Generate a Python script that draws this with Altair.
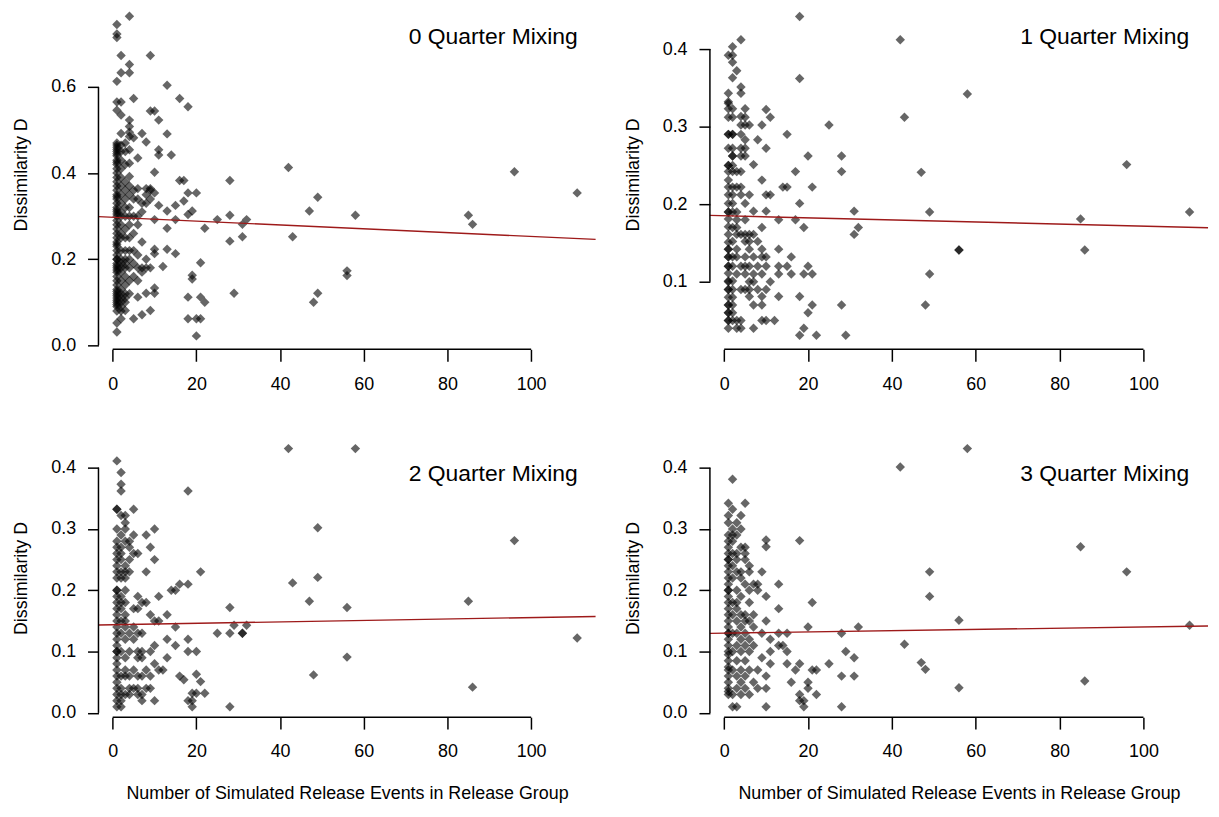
import altair as alt
import pandas as pd

FONT = "Liberation Sans"
X_TITLE = "Number of Simulated Release Events in Release Group"
Y_TITLE = "Dissimilarity D"
TITLES = ["0 Quarter Mixing", "1 Quarter Mixing", "2 Quarter Mixing", "3 Quarter Mixing"]

X_TICKS = [0, 20, 40, 60, 80, 100]
X_DOMAIN = [-3.4, 115.4]
Y_TICKS = [[0.0, 0.2, 0.4, 0.6], [0.1, 0.2, 0.3, 0.4],
           [0.0, 0.1, 0.2, 0.3, 0.4], [0.0, 0.1, 0.2, 0.3, 0.4]]
Y_DOMAINS = [[-0.0092, 0.778], [0.0128, 0.45], [-0.007, 0.447], [-0.007, 0.447]]
# fitted line values at the two ends of the x range
FIT_Y = [[0.299, 0.246], [0.1855, 0.1696], [0.1433, 0.1573], [0.1297, 0.1417]]

# release events in group -> dissimilarity values
Q0 = {
    1: [0.745, 0.723, 0.715, 0.613, 0.565, 0.546, 0.47, 0.465, 0.46, 0.455, 0.45, 0.445, 0.44, 0.43,
        0.425, 0.42, 0.41, 0.40, 0.39, 0.38, 0.37, 0.36, 0.35, 0.345, 0.34, 0.33, 0.32, 0.315, 0.31,
        0.305, 0.30, 0.29, 0.28, 0.27, 0.26, 0.25, 0.24, 0.235, 0.23, 0.22, 0.21, 0.20, 0.20, 0.19,
        0.185, 0.18, 0.175, 0.17, 0.16, 0.15, 0.14, 0.13, 0.125, 0.12, 0.115, 0.11, 0.105, 0.10,
        0.095, 0.09, 0.08, 0.052, 0.031],
    2: [0.673, 0.633, 0.565, 0.535, 0.492, 0.465, 0.45, 0.43, 0.41, 0.39, 0.37, 0.35, 0.33, 0.31,
        0.30, 0.28, 0.26, 0.25, 0.22, 0.20, 0.19, 0.18, 0.17, 0.15, 0.13, 0.12, 0.11, 0.10, 0.09,
        0.08, 0.062],
    3: [0.47, 0.45, 0.42, 0.38, 0.36, 0.34, 0.32, 0.30, 0.27, 0.25, 0.22, 0.20, 0.19, 0.18, 0.16,
        0.14, 0.12, 0.11, 0.10, 0.081],
    4: [0.764, 0.652, 0.633, 0.523, 0.508, 0.495, 0.485, 0.454, 0.423, 0.392, 0.37, 0.35, 0.32,
        0.30, 0.28, 0.25, 0.22, 0.20, 0.18, 0.15, 0.12],
    5: [0.573, 0.482, 0.36, 0.34, 0.30, 0.26, 0.22, 0.19, 0.16, 0.062],
    6: [0.435, 0.364, 0.34, 0.30, 0.28, 0.21, 0.18, 0.15, 0.112],
    7: [0.492, 0.33, 0.31, 0.24, 0.18, 0.17, 0.071],
    8: [0.472, 0.364, 0.35, 0.33, 0.20, 0.18, 0.121],
    9: [0.673, 0.544, 0.364, 0.36, 0.34, 0.18, 0.081],
    10: [0.544, 0.402, 0.354, 0.292, 0.223, 0.213, 0.133, 0.121],
    11: [0.523, 0.454, 0.442, 0.325],
    12: [0.183],
    13: [0.604, 0.491, 0.312, 0.272, 0.223],
    14: [0.442],
    15: [0.325, 0.292, 0.213],
    16: [0.573, 0.383],
    17: [0.383, 0.335],
    18: [0.554, 0.354, 0.304, 0.112, 0.062],
    19: [0.312, 0.163, 0.154],
    20: [0.354, 0.062, 0.022],
    21: [0.192, 0.112, 0.062],
    22: [0.272, 0.10],
    25: [0.292],
    28: [0.383, 0.302, 0.242],
    29: [0.121],
    31: [0.281, 0.252],
    32: [0.292],
    42: [0.413], 43: [0.252], 47: [0.312], 48: [0.10], 49: [0.344, 0.121],
    56: [0.173, 0.162], 58: [0.302], 85: [0.302], 86: [0.281], 96: [0.403], 111: [0.354],
}

Q1 = {
    1: [0.392, 0.343, 0.332, 0.33, 0.323, 0.312, 0.29, 0.29, 0.272, 0.25, 0.25, 0.242, 0.231,
        0.222, 0.212, 0.201, 0.19, 0.19, 0.181, 0.171, 0.161, 0.151, 0.142, 0.142, 0.132, 0.132,
        0.12, 0.12, 0.111, 0.101, 0.10, 0.09, 0.09, 0.08, 0.07, 0.07, 0.06, 0.06, 0.05, 0.05, 0.04],
    2: [0.403, 0.392, 0.383, 0.363, 0.323, 0.312, 0.29, 0.29, 0.272, 0.262, 0.262, 0.25, 0.242,
        0.222, 0.212, 0.201, 0.19, 0.17, 0.152, 0.132, 0.12, 0.101, 0.09, 0.08, 0.07, 0.06, 0.05],
    3: [0.372, 0.242, 0.222, 0.19, 0.18, 0.17, 0.161, 0.142, 0.132, 0.11, 0.05, 0.04],
    4: [0.412, 0.351, 0.343, 0.313, 0.302, 0.29, 0.272, 0.262, 0.242, 0.222, 0.212, 0.161, 0.12,
        0.09, 0.05, 0.04],
    5: [0.323, 0.312, 0.302, 0.283, 0.272, 0.262, 0.201, 0.18, 0.161, 0.152, 0.132, 0.12, 0.11, 0.09],
    6: [0.302, 0.212, 0.161, 0.152, 0.142, 0.12, 0.10, 0.09, 0.081],
    7: [0.251, 0.191, 0.161, 0.132, 0.11, 0.10, 0.07, 0.04],
    8: [0.283, 0.152, 0.12, 0.09],
    9: [0.302, 0.231, 0.17, 0.142, 0.132, 0.11, 0.081, 0.07, 0.05],
    10: [0.322, 0.272, 0.212, 0.191, 0.132, 0.12, 0.09, 0.05],
    11: [0.312, 0.212, 0.10],
    12: [0.05],
    13: [0.18, 0.142, 0.12, 0.11, 0.081],
    14: [0.222],
    15: [0.29, 0.222, 0.12],
    16: [0.132, 0.11],
    17: [0.242, 0.18],
    18: [0.442, 0.362, 0.201, 0.081, 0.031],
    19: [0.17, 0.11, 0.04],
    20: [0.262, 0.12, 0.06],
    21: [0.222, 0.11, 0.07],
    22: [0.031],
    25: [0.302],
    28: [0.262, 0.242, 0.07],
    29: [0.031],
    31: [0.191, 0.161],
    32: [0.17],
    42: [0.412], 43: [0.312], 47: [0.241], 48: [0.07], 49: [0.19, 0.11],
    56: [0.141, 0.141], 58: [0.342], 85: [0.181], 86: [0.141], 96: [0.251], 111: [0.19],
}

Q2 = {
    1: [0.411, 0.332, 0.332, 0.30, 0.28, 0.27, 0.26, 0.25, 0.24, 0.23, 0.22, 0.20, 0.20, 0.19,
        0.18, 0.17, 0.16, 0.15, 0.14, 0.13, 0.12, 0.11, 0.10, 0.10, 0.09, 0.08, 0.07, 0.06, 0.05,
        0.04, 0.03, 0.02, 0.01],
    2: [0.392, 0.373, 0.362, 0.322, 0.29, 0.27, 0.26, 0.25, 0.23, 0.22, 0.19, 0.18, 0.17, 0.15,
        0.13, 0.10, 0.06, 0.04, 0.03, 0.02, 0.01],
    3: [0.322, 0.31, 0.30, 0.28, 0.24, 0.23, 0.22, 0.20, 0.18, 0.16, 0.15, 0.14, 0.12, 0.09,
        0.07, 0.06, 0.03],
    4: [0.28, 0.27, 0.25, 0.23, 0.13, 0.10, 0.06, 0.04, 0.03],
    5: [0.332, 0.29, 0.26, 0.17, 0.14, 0.12, 0.07, 0.04],
    6: [0.26, 0.19, 0.17, 0.13, 0.10, 0.09, 0.06, 0.04, 0.03],
    7: [0.18, 0.13, 0.10, 0.09, 0.06, 0.03, 0.02],
    8: [0.29, 0.23, 0.18, 0.07, 0.04],
    9: [0.27, 0.16, 0.10, 0.06, 0.04],
    10: [0.30, 0.25, 0.15, 0.11, 0.08, 0.02],
    11: [0.19, 0.15, 0.07],
    12: [0.07],
    13: [0.16, 0.12, 0.09],
    14: [0.20],
    15: [0.20, 0.14, 0.11],
    16: [0.21, 0.06],
    17: [0.054],
    18: [0.362, 0.21, 0.12, 0.10, 0.02],
    19: [0.032, 0.02, 0.01],
    20: [0.10, 0.063, 0.032],
    21: [0.23, 0.051],
    22: [0.032],
    25: [0.13],
    28: [0.172, 0.13, 0.01],
    29: [0.143],
    31: [0.13, 0.13],
    32: [0.143],
    42: [0.431], 43: [0.212], 47: [0.182], 48: [0.062], 49: [0.302, 0.221],
    56: [0.172, 0.091], 58: [0.431], 85: [0.182], 86: [0.042], 96: [0.281], 111: [0.122],
}

Q3 = {
    1: [0.342, 0.322, 0.31, 0.29, 0.28, 0.27, 0.26, 0.25, 0.25, 0.24, 0.23, 0.22, 0.21, 0.20,
        0.20, 0.19, 0.18, 0.17, 0.16, 0.15, 0.14, 0.13, 0.13, 0.12, 0.11, 0.10, 0.095, 0.085,
        0.075, 0.07, 0.06, 0.05, 0.04, 0.035, 0.03],
    2: [0.381, 0.332, 0.30, 0.29, 0.28, 0.26, 0.24, 0.22, 0.18, 0.16, 0.13, 0.10, 0.07, 0.03, 0.01],
    3: [0.31, 0.29, 0.26, 0.25, 0.23, 0.20, 0.18, 0.17, 0.15, 0.13, 0.11, 0.085, 0.06, 0.04, 0.01],
    4: [0.322, 0.30, 0.27, 0.23, 0.22, 0.19, 0.16, 0.14, 0.12, 0.10, 0.07, 0.05, 0.03],
    5: [0.342, 0.27, 0.26, 0.25, 0.21, 0.16, 0.15, 0.13, 0.11, 0.085, 0.06, 0.04],
    6: [0.24, 0.23, 0.20, 0.18, 0.15, 0.12, 0.10, 0.07, 0.03],
    7: [0.21, 0.16, 0.14, 0.11, 0.05],
    8: [0.21, 0.20, 0.07, 0.04],
    9: [0.23, 0.13, 0.09],
    10: [0.282, 0.271, 0.19, 0.15, 0.06, 0.04, 0.01],
    11: [0.12, 0.10, 0.08],
    13: [0.21, 0.17, 0.13, 0.11],
    14: [0.11],
    15: [0.13, 0.10, 0.08],
    16: [0.05],
    17: [0.07],
    18: [0.281, 0.08, 0.03, 0.02],
    19: [0.02, 0.01],
    20: [0.14, 0.05, 0.04],
    21: [0.18, 0.07],
    22: [0.07, 0.03],
    25: [0.08],
    28: [0.13, 0.06, 0.01],
    29: [0.10],
    31: [0.09, 0.06],
    32: [0.14],
    42: [0.401], 43: [0.112], 47: [0.082], 48: [0.071], 49: [0.23, 0.19],
    56: [0.151, 0.041], 58: [0.431], 85: [0.271], 86: [0.052], 96: [0.23], 111: [0.143],
}

PANELS = [Q0, Q1, Q2, Q3]
PAD = {"left": 5, "top": 0, "right": 0, "bottom": -2}


def make_panel(i, width, height, bottom, title_right, title_base, ytitle_y):
    pts = PANELS[i]
    df = pd.DataFrame([(x, y) for x, ys in pts.items() for y in ys], columns=["x", "y"])
    xs = alt.Scale(domain=X_DOMAIN, nice=False, zero=False)
    ys = alt.Scale(domain=Y_DOMAINS[i], nice=False, zero=False)

    xkw = dict(values=X_TICKS, domain=False, grid=False, tickSize=12, tickWidth=1.5,
               tickColor="black", labelPadding=14, labelFont=FONT, labelFontSize=18,
               labelColor="black", labelFlush=False, labelOverlap=False)
    if bottom:
        xkw.update(title=X_TITLE, titleFont=FONT, titleFontSize=18, titleFontWeight="normal",
                   titleColor="black", titleY=82, titleBaseline="alphabetic")
    else:
        xkw.update(title=None)
    xaxis = alt.Axis(**xkw)
    yaxis = alt.Axis(values=Y_TICKS[i], format=".1f", domain=False, grid=False, tickSize=11,
                     tickWidth=1.5, tickColor="black", labelPadding=12, labelFont=FONT,
                     labelFontSize=18, labelColor="black", labelFlush=False, labelOverlap=False,
                     title=Y_TITLE, titleFont=FONT, titleFontSize=18, titleFontWeight="normal",
                     titleColor="black", titleX=-72, titleY=ytitle_y, titleAngle=270,
                     titleAlign="center", titleBaseline="alphabetic")
    X = alt.X("x:Q", scale=xs, axis=xaxis)
    Y = alt.Y("y:Q", scale=ys, axis=yaxis)

    points = alt.Chart(df).mark_point(
        shape="diamond", filled=True, size=90, color="black", opacity=0.6, strokeWidth=0
    ).encode(x=X, y=Y)

    fit = alt.Chart(pd.DataFrame({"x": X_DOMAIN, "y": FIT_Y[i]})).mark_line(
        color="#9e1a1a", strokeWidth=1.4
    ).encode(x=X, y=Y)

    xline = alt.Chart(pd.DataFrame({"x": [X_TICKS[0]], "x2": [X_TICKS[-1]],
                                    "y": [Y_DOMAINS[i][0]]})).mark_rule(
        color="black", strokeWidth=1.5
    ).encode(x=X, x2="x2:Q", y=Y)

    yline = alt.Chart(pd.DataFrame({"x": [X_DOMAIN[0]], "y": [Y_TICKS[i][0]],
                                    "y2": [Y_TICKS[i][-1]]})).mark_rule(
        color="black", strokeWidth=1.5
    ).encode(x=X, y=Y, y2="y2:Q")

    title = alt.Chart(pd.DataFrame({"t": [TITLES[i]]})).mark_text(
        align="right", baseline="alphabetic", font=FONT, fontSize=23, color="black"
    ).encode(text="t:N", x=alt.value(width - title_right), y=alt.value(title_base))

    return alt.layer(points, fit, xline, yline, title).properties(width=width, height=height)


p0 = make_panel(0, 500, 341, False, 18, 33.7, 165)
p1 = make_panel(1, 501, 341, False, 19, 33.7, 165)
p2 = make_panel(2, 500, 280, True, 18, 42, 140)
p3 = make_panel(3, 501, 280, True, 19, 42, 140)

top = alt.hconcat(p0, p1, spacing=26)
bot = alt.hconcat(p2, p3, spacing=26)

chart = (
    alt.vconcat(top, bot, spacing=46)
    .properties(padding=PAD)
    .configure(padding=PAD, background="white")
    .configure_view(stroke=None)
)

chart.save("out.html", embed_options={"renderer": "svg", "actions": False})
